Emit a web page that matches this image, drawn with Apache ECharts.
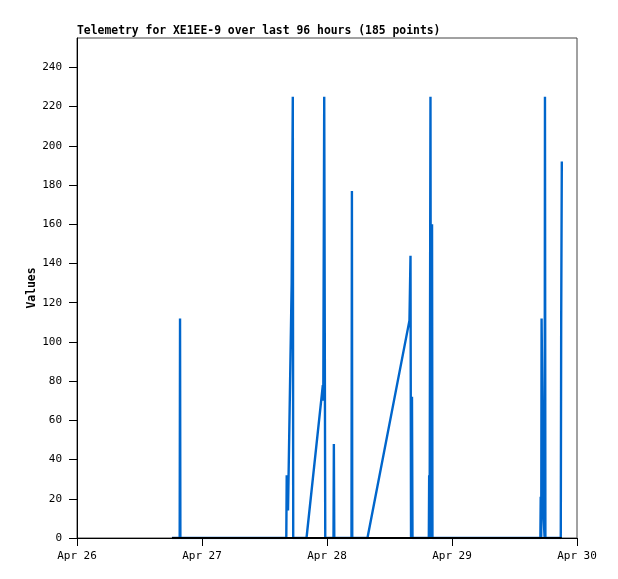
<!DOCTYPE html>
<html>
<head>
<meta charset="utf-8">
<script src="https://cdn.jsdelivr.net/npm/echarts@6/dist/echarts.min.js"></script>
<style>html,body{margin:0;padding:0;background:#fff}#c{width:618px;height:579px}</style>
</head>
<body>
<div id="c"></div>
<script>
const titleText = 'Telemetry for XE1EE-9 over last 96 hours (185 points)';
const yAxisName = 'Values';
const xTickLabels = ['Apr 26', 'Apr 27', 'Apr 28', 'Apr 29', 'Apr 30'];
const yTicks = [0, 20, 40, 60, 80, 100, 120, 140, 160, 180, 200, 220, 240];
const times = [
  '04-26 18:14','04-26 19:43','04-26 19:47','04-26 19:51',
  '04-27 16:11','04-27 16:16','04-27 16:31','04-27 17:13','04-27 17:26','04-27 17:31',
  '04-27 20:04','04-27 23:12','04-27 23:17','04-27 23:28','04-27 23:40',
  '04-28 01:15','04-28 01:19','04-28 01:24',
  '04-28 04:42','04-28 04:47','04-28 04:51',
  '04-28 07:46','04-28 15:50','04-28 16:02','04-28 16:08','04-28 16:19','04-28 16:25',
  '04-28 19:33','04-28 19:37','04-28 19:42','04-28 19:52','04-28 19:58','04-28 20:10','04-28 20:15',
  '04-29 16:58','04-29 17:02','04-29 17:08','04-29 17:12','04-29 17:21','04-29 17:31','04-29 17:47','04-29 17:51','04-29 17:56',
  '04-29 20:53','04-29 20:58','04-29 21:05'
];
const values = [
  0, 0, 112, 0,
  0, 32, 14, 130, 225, 0,
  0, 78, 70, 225, 0,
  0, 48, 0,
  0, 177, 0,
  0, 111, 144, 0, 72, 0,
  0, 32, 0, 225, 0, 160, 0,
  0, 21, 0, 112, 67, 14, 0, 225, 0,
  0, 112, 192
];
const YEAR = 2024;
function toMs(s) {
  const [md, hm] = s.split(' ');
  const [m, d] = md.split('-').map(Number);
  const [h, mi] = hm.split(':').map(Number);
  return Date.UTC(YEAR, m - 1, d, h, mi);
}
const DAY = 86400000;
const xMin = Date.UTC(YEAR, 3, 26);
const xMax = Date.UTC(YEAR, 3, 30);
const seriesData = times.map((t, i) => [toMs(t), values[i]]);
const baseData = [[toMs(times[0]), 0], [toMs(times[times.length - 1]), 0]];

const chart = echarts.init(document.getElementById('c'), null, {renderer: 'canvas'});
chart.setOption({
  animation: false,
  backgroundColor: '#ffffff',
  title: {
    text: titleText, left: 77, top: 26, padding: 0,
    textStyle: {fontFamily: 'DejaVu Sans Mono', fontWeight: 'bold', fontSize: 11.4, color: '#000'}
  },
  grid: {left: 77, right: 41, top: 38, bottom: 41, show: true, borderColor: '#444', borderWidth: 1, backgroundColor: 'transparent'},
  xAxis: {
    type: 'value', min: xMin, max: xMax, interval: DAY,
    axisLine: {show: true, lineStyle: {color: '#000', width: 1}},
    axisTick: {show: true, length: 8, lineStyle: {color: '#000'}},
    splitLine: {show: false},
    axisLabel: {
      margin: 13, color: '#000', fontFamily: 'DejaVu Sans Mono', fontSize: 11,
      formatter: v => xTickLabels[Math.round((v - xMin) / DAY)]
    }
  },
  yAxis: {
    type: 'value', min: 0, max: 255, interval: 20,
    name: yAxisName, nameLocation: 'middle', nameGap: 39, nameMoveOverlap: false,
    nameTextStyle: {fontFamily: 'DejaVu Sans Mono', fontWeight: 'bold', fontSize: 11.4, color: '#000'},
    axisLine: {show: true, lineStyle: {color: '#000', width: 1}},
    axisTick: {show: true, length: 8, lineStyle: {color: '#000'}, customValues: yTicks},
    splitLine: {show: false},
    axisLabel: {
      margin: 15, color: '#000', fontFamily: 'DejaVu Sans Mono', fontSize: 11,
      customValues: yTicks,
      formatter: v => String(v)
    }
  },
  series: [
    {type: 'line', data: seriesData, showSymbol: false, symbol: 'none', clip: true,
     lineStyle: {color: '#0066cc', width: 2.4}, z: 2},
    {type: 'line', data: baseData, showSymbol: false, symbol: 'none', clip: false,
     lineStyle: {color: '#000', width: 2}, z: 3}
  ]
});
</script>
</body>
</html>
